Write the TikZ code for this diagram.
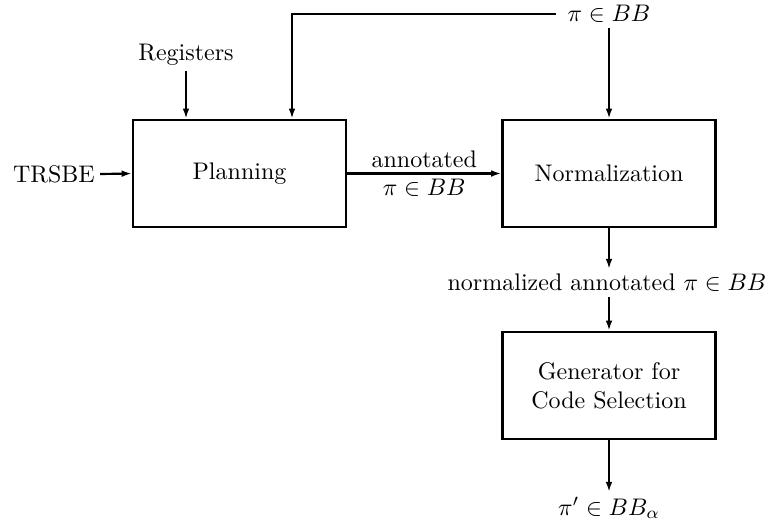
\documentclass[tikz,border=0pt]{standalone}
\usetikzlibrary{arrows.meta}
\begin{document}
\begin{tikzpicture}[x=0.4167pt,y=-0.4167pt,
  blk/.style={draw,line width=1.1pt,minimum width=88.7pt,minimum height=44.6pt,inner sep=0pt,align=center},
  lbl/.style={inner sep=2pt,align=center},
  flow/.style={line width=0.9pt,-{Latex[length=4.2pt,width=2.8pt]}},
  plainln/.style={line width=0.9pt}]
\useasboundingbox (0,0) rectangle (770,522);
\node[blk] (plan) at (239.5,173.5) {Planning};
\node[blk] (norm) at (609,173.5) {Normalization};
\node[blk] (gen) at (609,385.5) {Generator for\\Code Selection};
\node[lbl] (trsbe) at (54,174) {TRSBE};
\node[lbl] (reg) at (186,55) {Registers};
\node[lbl] (top) at (609,14) {$\pi\in BB$};
\node[lbl] (mid) at (607,283) {normalized annotated $\pi\in BB$};
\node[lbl] (out) at (609,508) {$\pi'\in BB_\alpha$};
\coordinate (fbR) at (556,14);
\coordinate (fbL) at (292,14);
\draw[flow] (trsbe.east) -- (plan.west);
\draw[flow] (reg.south) -- (reg.south |- plan.north);
\draw[flow] (fbR) -- (fbL) -- (fbL |- plan.north);
\draw[flow] (norm.north |- top.south) -- (norm.north);
\draw[flow] (plan.east) -- node[lbl,above]{annotated} node[lbl,below]{$\pi\in BB$} (norm.west);
\draw[flow] (norm.south) -- (norm.south |- mid.north);
\draw[flow] (gen.north |- mid.south) -- (gen.north);
\draw[flow] (gen.south) -- (gen.south |- out.north);
\end{tikzpicture}
\end{document}
